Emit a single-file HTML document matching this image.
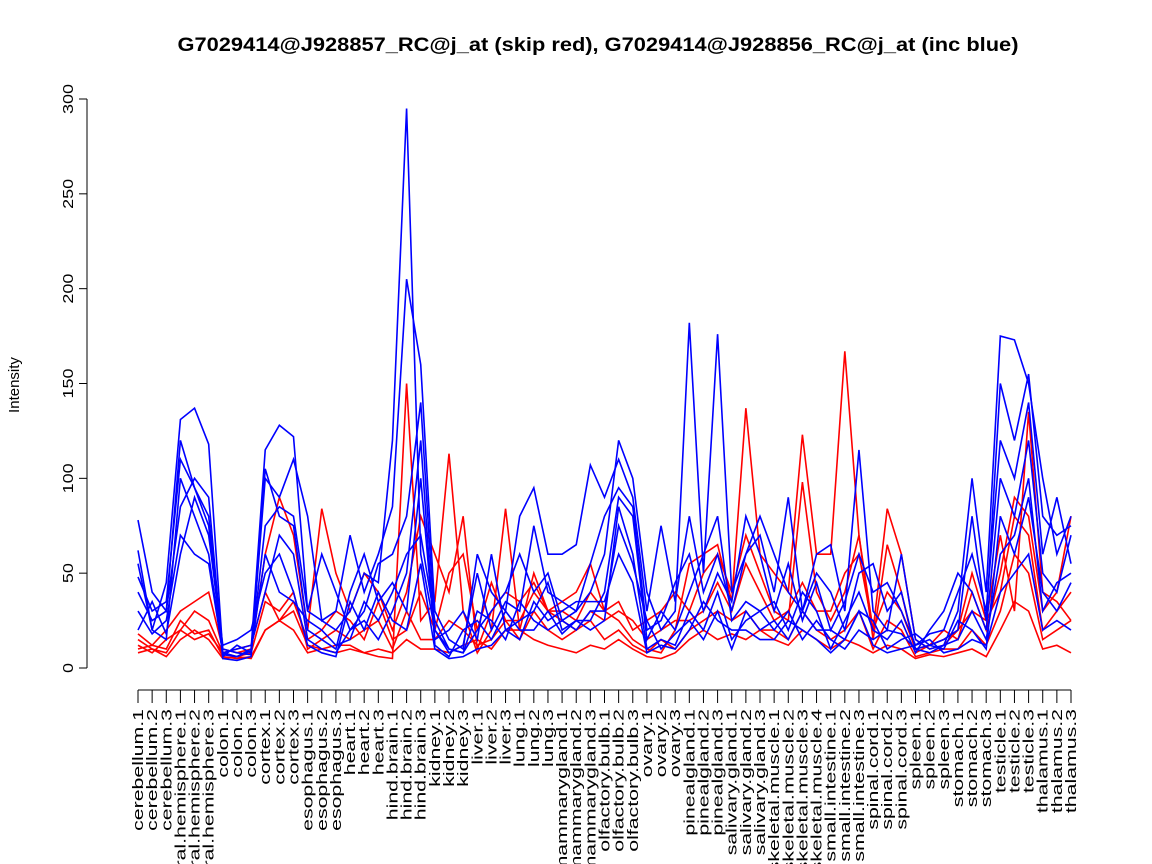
<!DOCTYPE html>
<html><head><meta charset="utf-8"><style>
html,body{margin:0;background:#fff;width:1152px;height:864px;overflow:hidden;}
svg{display:block;overflow:hidden;}
svg text{font-family:"Liberation Sans",sans-serif;}
</style></head><body>
<svg id="chart" width="1152" height="864" xmlns="http://www.w3.org/2000/svg">
<text transform="translate(598,51) scale(1.12,1)" text-anchor="middle" font-size="19.5" font-weight="bold">G7029414@J928857_RC@j_at (skip red), G7029414@J928856_RC@j_at (inc blue)</text>
<text transform="translate(19,385) rotate(-90)" text-anchor="middle" font-size="15">Intensity</text>
<g id="yaxis"></g>
<g id="xaxis"></g>
<g id="series"></g>
</svg>
<script>
const groups=["cerebellum","cerebral.hemisphere","colon","cortex","esophagus","heart","hind.brain","kidney","liver","lung","mammarygland","olfactory.bulb","ovary","pinealgland","salivary.gland","skeletal.muscle","small.intestine","spinal.cord","spleen","stomach","testicle","thalamus"];
const categories=[];
groups.forEach(g=>{const n=g==="skeletal.muscle"?4:3;for(let i=1;i<=n;i++)categories.push(g+"."+i);});
const yTicks=[0,50,100,150,200,250,300];
const red1=[15,10,8,20,15,18,8,6,5,20,25,30,12,10,8,10,8,6,5,150,25,35,113,30,8,20,84,20,50,30,35,40,55,30,25,15,10,8,20,55,60,65,35,137,60,50,40,123,60,60,167,70,20,84,60,15,10,12,20,50,25,70,30,135,40,35,25];
const red2=[10,12,20,30,35,40,10,8,10,60,90,70,20,84,50,30,50,40,20,40,80,60,40,80,10,30,40,35,45,30,30,25,40,30,35,20,25,30,40,30,50,60,40,70,50,30,25,98,40,25,40,70,15,65,40,8,12,20,15,40,20,50,90,80,30,40,80];
const red3=[8,10,6,15,20,15,5,6,8,35,30,40,10,15,20,15,20,25,10,30,15,15,25,20,12,15,25,15,30,20,15,20,25,15,20,12,8,15,10,20,25,30,25,30,20,20,15,30,20,15,20,30,10,25,20,6,8,10,10,20,12,30,60,50,15,20,25];
const red4=[18,12,10,25,18,20,6,5,6,20,25,20,8,10,12,12,8,10,8,15,10,10,8,12,15,10,20,20,15,12,10,8,12,10,15,10,6,5,8,15,20,15,18,15,20,15,12,20,15,10,15,12,8,12,10,5,7,6,8,10,6,20,35,30,10,12,8];
const red5=[12,8,15,20,30,25,8,10,12,40,25,35,15,20,30,25,15,35,15,20,40,20,50,60,20,45,25,25,40,30,25,20,30,25,30,25,15,20,25,25,30,45,30,55,40,25,30,45,30,30,50,60,20,40,30,10,12,15,20,30,25,40,80,70,20,30,40];
const blue1=[62,20,45,131,137,118,8,6,10,115,128,122,30,25,20,30,50,45,120,295,60,20,10,8,20,30,40,60,40,50,25,30,40,60,120,100,40,20,30,182,50,176,40,60,80,60,40,30,60,65,30,115,30,20,60,15,10,12,30,100,40,175,173,150,100,60,80];
const blue2=[48,30,35,110,95,80,10,8,7,100,90,110,80,25,30,70,40,60,85,205,160,30,15,10,60,40,30,80,95,60,60,65,107,90,110,90,30,75,35,80,40,60,30,60,70,40,90,30,50,40,20,50,55,30,40,10,12,15,20,80,25,150,120,155,80,70,75];
const blue3=[40,25,30,85,100,90,6,12,8,75,85,80,30,60,40,20,30,55,60,80,140,20,8,12,50,20,35,30,75,40,35,30,55,80,95,85,20,25,45,60,30,50,35,80,60,30,55,25,45,20,35,60,40,45,30,12,18,20,40,60,30,120,100,140,60,90,55];
const blue4=[78,40,30,120,95,75,5,4,6,105,80,75,20,15,10,40,60,35,45,30,100,15,20,30,15,60,20,25,30,45,20,25,25,40,90,80,15,30,20,40,60,80,25,35,30,35,20,40,30,10,25,40,20,15,25,8,20,30,50,40,20,100,80,120,50,40,70];
const blue5=[30,18,25,70,60,55,8,10,12,40,70,60,15,10,8,20,25,15,30,50,120,12,6,20,25,15,30,20,20,30,18,25,20,25,85,60,10,15,12,30,20,40,15,25,30,20,30,15,25,15,10,20,15,20,18,10,8,12,15,30,15,60,70,100,30,45,50];
const blue6=[55,20,15,100,80,60,7,6,9,60,40,35,25,20,12,15,35,25,40,60,70,25,10,8,30,25,15,35,25,20,25,20,30,30,75,55,25,10,18,25,15,30,10,30,20,25,15,30,20,20,15,30,25,10,15,18,12,10,25,20,10,80,60,90,40,30,45];
const blue7=[20,35,18,60,90,70,12,15,20,50,60,40,12,8,6,35,20,40,25,20,55,10,5,6,10,12,20,15,35,25,30,35,35,35,60,45,8,12,10,20,35,25,20,20,15,15,25,20,15,8,15,30,12,8,10,12,15,8,10,15,12,40,50,60,20,25,20];
const redSeries=[red1,red2,red3,red4,red5];
const blueSeries=[blue1,blue2,blue3,blue4,blue5,blue6,blue7];
const NS="http://www.w3.org/2000/svg";
const x0=138,x1=1071,yZero=668,yTop=99;
const xs=i=>x0+(x1-x0)*i/(categories.length-1);
const ys=v=>yZero-(yZero-yTop)*v/300;
function mk(tag,attrs,parent){const e=document.createElementNS(NS,tag);for(const k in attrs)e.setAttribute(k,attrs[k]);parent.appendChild(e);return e;}
const ya=document.getElementById('yaxis');
mk('line',{x1:87,x2:87,y1:ys(0),y2:ys(300),stroke:'#000'},ya);
yTicks.forEach(t=>{
 const l=mk('line',{x1:79,x2:87,y1:ys(t),y2:ys(t),stroke:'#000'},ya);
 
 
 const tx=mk('text',{transform:`translate(73,${ys(t)}) rotate(-90) scale(1.2,1)`,'text-anchor':'middle','font-size':15},ya);
 tx.textContent=t;
 
 
});
const xa=document.getElementById('xaxis');
mk('line',{x1:x0,x2:x1,y1:690,y2:690,stroke:'#000'},xa);
categories.forEach((c,i)=>{
 const l=mk('line',{x1:xs(i),x2:xs(i),y1:690,y2:703,stroke:'#000'},xa);
 
 
 const tx=mk('text',{transform:`translate(${xs(i)+5},709) rotate(-90) scale(1.42,1)`,'text-anchor':'end','font-size':15},xa);
 tx.textContent=c;
 
 
});
const sg=document.getElementById('series');
function draw(arr,color,name){
 const p=mk('polyline',{points:arr.map((v,i)=>xs(i)+','+ys(v)).join(' '),fill:'none',stroke:color,'stroke-width':1.6},sg);
 
 
}
redSeries.forEach((s,i)=>draw(s,'#ff0000','skip-red-line-'+(i+1)));
blueSeries.forEach((s,i)=>draw(s,'#0000ff','inc-blue-line-'+(i+1)));
</script>
</body></html>
